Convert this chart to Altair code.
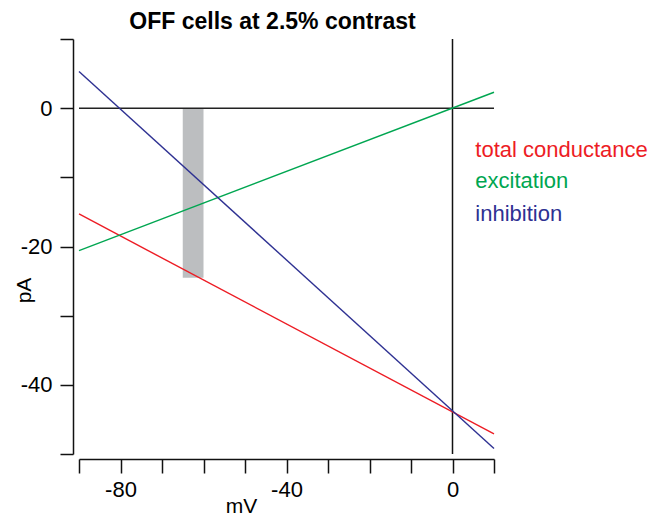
import altair as alt
import pandas as pd

# data
series = ["total conductance", "excitation", "inhibition"]
colors = ["#ed1c24", "#00a651", "#2e3192"]
x_ends = [-90, 10]
y_total = [-15.3, -47.1]
y_exc = [-20.6, 2.3]
y_inh = [5.3, -49.2]
bar_x = [-65, -60]
bar_y = [0, -24.5]
legend_x = [5.5, 5.5, 5.5]
legend_y = [-7.1, -11.6, -16.3]
x_ticks = list(range(-90, 11, 10))
y_ticks = list(range(-50, 11, 10))

rows = []
for name, ys in zip(series, [y_total, y_exc, y_inh]):
    for xv, yv in zip(x_ends, ys):
        rows.append({"series": name, "x": xv, "y": yv})
lines_df = pd.DataFrame(rows)
bar_df = pd.DataFrame({"x": [bar_x[0]], "x2": [bar_x[1]], "y": [bar_y[0]], "y2": [bar_y[1]]})
legend_df = pd.DataFrame({"series": series, "x": legend_x, "y": legend_y})
hline_df = pd.DataFrame({"x": [x_ends[0]], "x2": [x_ends[1]], "y": [0]})
vline_df = pd.DataFrame({"x": [0], "y": [y_ticks[0]], "y2": [y_ticks[-1]]})

FONT = "Liberation Sans"
xscale = alt.Scale(domain=[-90, 10], nice=False, zero=False)
yscale = alt.Scale(domain=[-50, 10], nice=False, zero=False)
color_scale = alt.Scale(domain=series, range=colors)

xaxis = alt.Axis(
    values=x_ticks, labelExpr="datum.value % 40 == 0 ? '' + datum.value : ''",
    title="mV", offset=5, tickSize=14, labelPadding=6, grid=False,
    domainColor="#111", tickColor="#111", domainWidth=1.5, tickWidth=1.5,
    labelFont=FONT, labelFontSize=22, labelColor="black",
    titleFont=FONT, titleFontSize=21, titleFontWeight="normal", titleColor="black",
    titleX=162, titleY=53, titleBaseline="alphabetic", titleAnchor="start", titleAlign="center",
)
yaxis = alt.Axis(
    values=y_ticks, labelExpr="datum.value % 20 == 0 ? '' + datum.value : ''",
    title="pA", offset=6, tickSize=13, labelPadding=8, grid=False,
    domainColor="#111", tickColor="#111", domainWidth=1.5, tickWidth=1.5,
    labelFont=FONT, labelFontSize=22, labelColor="black",
    titleFont=FONT, titleFontSize=21, titleFontWeight="normal", titleColor="black",
    titleX=-49, titleY=251, titleBaseline="middle", titleAlign="center", titleAngle=-90,
)

base = alt.Chart(lines_df)

bar = alt.Chart(bar_df).mark_rect(color="#bcbec0").encode(
    x=alt.X("x:Q", scale=xscale, axis=xaxis), x2="x2:Q",
    y=alt.Y("y:Q", scale=yscale, axis=yaxis), y2="y2:Q",
)
hline = alt.Chart(hline_df).mark_rule(color="#222", strokeWidth=1.5).encode(
    x=alt.X("x:Q", scale=xscale), x2="x2:Q", y=alt.Y("y:Q", scale=yscale)
)
vline = alt.Chart(vline_df).mark_rule(color="#111", strokeWidth=1.5).encode(
    x=alt.X("x:Q", scale=xscale), y=alt.Y("y:Q", scale=yscale), y2="y2:Q"
)
lines = base.mark_line(strokeWidth=1.4).encode(
    x=alt.X("x:Q", scale=xscale),
    y=alt.Y("y:Q", scale=yscale),
    color=alt.Color("series:N", scale=color_scale, legend=None),
    detail="series:N",
)
labels = alt.Chart(legend_df).mark_text(
    align="left", baseline="alphabetic", font=FONT, fontSize=22, clip=False
).encode(
    x=alt.X("x:Q", scale=xscale),
    y=alt.Y("y:Q", scale=yscale),
    text="series:N",
    color=alt.Color("series:N", scale=color_scale, legend=None),
)

chart = alt.layer(bar, hline, vline, lines, labels).properties(
    width=415, height=415,
    background="white",
    title=alt.TitleParams("OFF cells at 2.5% contrast", font=FONT, fontSize=23,
                          fontWeight="bold", color="black", anchor="middle", dx=-14, offset=4),
    autosize=alt.AutoSizeParams(type="none"),
    padding={"left": 79, "top": 39, "right": 161, "bottom": 63},
).configure_view(stroke="transparent", strokeWidth=0)

chart.save("out.html", embed_options={"renderer": "svg", "actions": False})
